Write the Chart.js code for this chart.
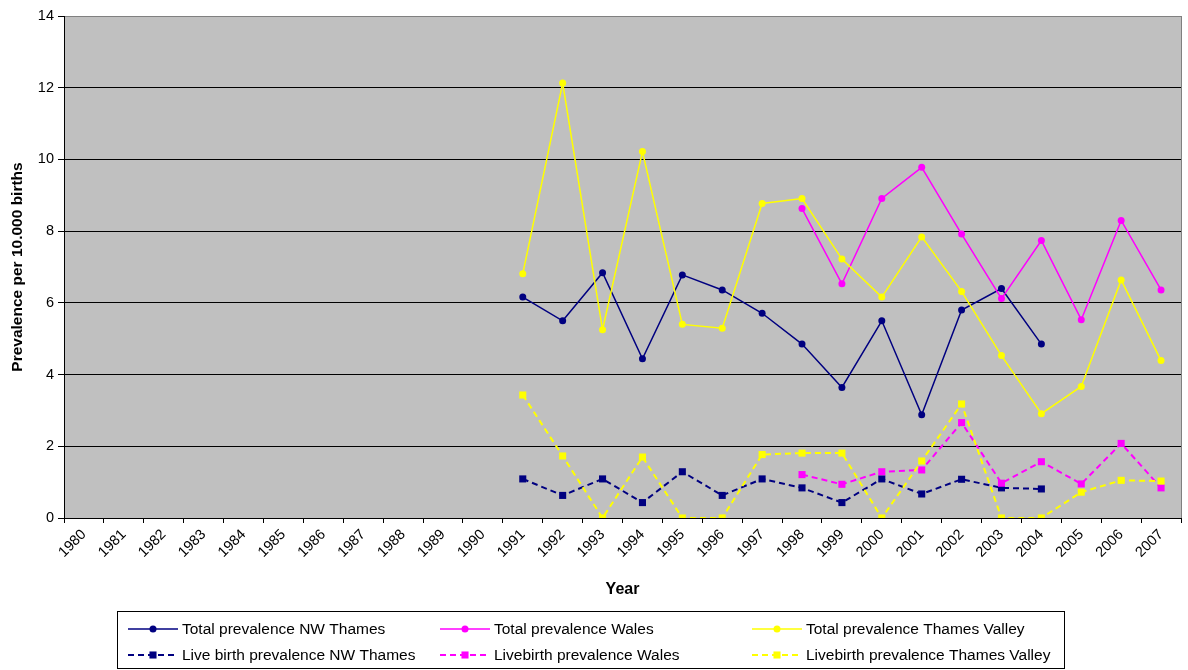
<!DOCTYPE html>
<html lang="en">
<head>
<meta charset="UTF-8">
<title>Prevalence per 10.000 births</title>
<style>
    body { margin: 0; background: #fff; }
    #wrap { width: 1188px; height: 670px; }
</style>
<script src="https://cdn.jsdelivr.net/npm/chart.js"></script>
</head>
<body>
<div id="wrap"><canvas id="chart" width="1188" height="670"></canvas></div>
<script>
// categories
const years = ['1980', '1981', '1982', '1983', '1984', '1985', '1986', '1987', '1988', '1989',
    '1990', '1991', '1992', '1993', '1994', '1995', '1996', '1997', '1998', '1999',
    '2000', '2001', '2002', '2003', '2004', '2005', '2006', '2007'];

// series (null = no data that year)
const totalNWThames = [null, null, null, null, null, null, null, null, null, null, null,
    6.16, 5.50, 6.84, 4.44, 6.78, 6.36, 5.71, 4.85, 3.64, 5.50, 2.88, 5.80, 6.40, 4.85,
    null, null, null];
const totalWales = [null, null, null, null, null, null, null, null, null, null, null,
    null, null, null, null, null, null, null,
    8.63, 6.53, 8.91, 9.78, 7.92, 6.12, 7.74, 5.53, 8.30, 6.36];
const totalThamesValley = [null, null, null, null, null, null, null, null, null, null, null,
    6.81, 12.13, 5.25, 10.22, 5.40, 5.29, 8.77, 8.91, 7.22, 6.16, 7.84, 6.32, 4.53, 2.91,
    3.67, 6.64, 4.39];
const liveNWThames = [null, null, null, null, null, null, null, null, null, null, null,
    1.09, 0.63, 1.09, 0.43, 1.29, 0.63, 1.09, 0.84, 0.43, 1.09, 0.67, 1.08, 0.84, 0.81,
    null, null, null];
const liveWales = [null, null, null, null, null, null, null, null, null, null, null,
    null, null, null, null, null, null, null,
    1.21, 0.94, 1.29, 1.34, 2.66, 0.97, 1.57, 0.95, 2.08, 0.84];
const liveThamesValley = [null, null, null, null, null, null, null, null, null, null, null,
    3.43, 1.73, 0, 1.70, 0, 0, 1.77, 1.81, 1.81, 0, 1.59, 3.18, 0, 0,
    0.72, 1.05, 1.03];

const yTicks = [0, 2, 4, 6, 8, 10, 12, 14];

const FONT = "'Liberation Sans', Arial, sans-serif";
const NAVY = '#000080', MAGENTA = '#FF00FF', YELLOW = '#FFFF00';

function solid(label, data, color) {
    return {
        label, data,
        borderColor: color, backgroundColor: color,
        borderWidth: 1.5,
        pointStyle: 'circle', pointRadius: 3.5,
        pointBorderWidth: 0
    };
}
function dashed(label, data, color) {
    return {
        label, data,
        borderColor: color, backgroundColor: color,
        borderWidth: 2, borderDash: [6, 4],
        pointStyle: 'rect', pointRadius: 5,
        pointBorderWidth: 0
    };
}

const datasets = [
    solid('Total prevalence NW Thames', totalNWThames, NAVY),
    solid('Total prevalence Wales', totalWales, MAGENTA),
    solid('Total prevalence Thames Valley', totalThamesValley, YELLOW),
    dashed('Live birth prevalence NW Thames', liveNWThames, NAVY),
    dashed('Livebirth prevalence Wales', liveWales, MAGENTA),
    dashed('Livebirth prevalence Thames Valley', liveThamesValley, YELLOW)
];
// later series on top, like the original
datasets.forEach((d, i) => { d.order = datasets.length - i; });

// grey plot area + right border
const plotBackground = {
    id: 'plotBackground',
    beforeDraw(chart) {
        const { ctx, chartArea: a } = chart;
        ctx.save();
        ctx.fillStyle = '#fff';
        ctx.fillRect(0, 0, chart.width, chart.height);
        ctx.fillStyle = '#C0C0C0';
        ctx.fillRect(a.left, a.top, a.right - a.left, a.bottom - a.top);
        ctx.restore();
    },
    beforeDatasetsDraw(chart) {
        const { ctx, chartArea: a } = chart;
        ctx.save();
        ctx.strokeStyle = '#808080';
        ctx.lineWidth = 1;
        ctx.beginPath();
        ctx.moveTo(a.right + 0.5, a.top);
        ctx.lineTo(a.right + 0.5, a.bottom);
        ctx.stroke();
        ctx.restore();
    }
};

// boxed legend, 3 columns x 2 rows
const boxLegend = {
    id: 'boxLegend',
    afterDraw(chart) {
        const ctx = chart.ctx;
        const box = { x: 117.5, y: 611.5, w: 947, h: 57 };
        const cols = [128, 440, 752];
        const rows = [629, 655];
        ctx.save();
        ctx.strokeStyle = '#000';
        ctx.lineWidth = 1;
        ctx.strokeRect(box.x, box.y, box.w, box.h);
        ctx.font = '15.5px ' + FONT;
        ctx.textBaseline = 'middle';
        ctx.fillStyle = '#000';
        chart.data.datasets.forEach((ds, i) => {
            const x0 = cols[i % 3];
            const y = rows[Math.floor(i / 3)];
            ctx.save();
            ctx.strokeStyle = ds.borderColor;
            ctx.lineWidth = ds.borderWidth;
            ctx.setLineDash(ds.borderDash || []);
            ctx.beginPath();
            ctx.moveTo(x0, y);
            ctx.lineTo(x0 + 50, y);
            ctx.stroke();
            ctx.restore();
            ctx.fillStyle = ds.backgroundColor;
            Chart.helpers.drawPoint(ctx, {
                pointStyle: ds.pointStyle, radius: ds.pointRadius, borderWidth: 0
            }, x0 + 25, y);
            ctx.fillStyle = '#000';
            ctx.fillText(ds.label, x0 + 54, y + 1);
        });
        ctx.restore();
    }
};

new Chart(document.getElementById('chart'), {
    type: 'line',
    data: { labels: years, datasets },
    options: {
        responsive: false,
        animation: false,
        layout: { padding: { top: 16, right: 7, left: 0, bottom: 70 } },
        elements: { line: { tension: 0 } },
        plugins: {
            legend: { display: false },
            tooltip: { enabled: false }
        },
        scales: {
            x: {
                offset: true,
                grid: {
                    offset: true,
                    drawOnChartArea: false,
                    tickLength: 5,
                    color: '#000',
                    tickColor: '#000'
                },
                border: { color: '#000', width: 1 },
                ticks: {
                    autoSkip: false,
                    minRotation: 45,
                    maxRotation: 45,
                    padding: 3,
                    color: '#000',
                    font: { family: FONT, size: 14.5 }
                },
                title: {
                    display: true,
                    text: 'Year',
                    color: '#000',
                    padding: { top: 0, bottom: 1 },
                    font: { family: FONT, size: 16, weight: 'bold' }
                },
                afterFit(s) { s.height = 82; }
            },
            y: {
                min: 0,
                max: 14,
                afterBuildTicks(s) { s.ticks = yTicks.map(v => ({ value: v })); },
                grid: {
                    tickLength: 6,
                    color: c => (c.tick && c.tick.value === 14 ? '#808080' : '#000'),
                    tickColor: '#000'
                },
                border: { color: '#000', width: 1 },
                ticks: {
                    padding: 4,
                    color: '#000',
                    font: { family: FONT, size: 14.5 }
                },
                title: {
                    display: true,
                    text: 'Prevalence per 10.000 births',
                    color: '#000',
                    padding: { top: 8, bottom: 0 },
                    font: { family: FONT, size: 15.5, weight: 'bold' }
                },
                afterFit(s) { s.width = 64; }
            }
        }
    },
    plugins: [plotBackground, boxLegend]
});
</script>
</body>
</html>
